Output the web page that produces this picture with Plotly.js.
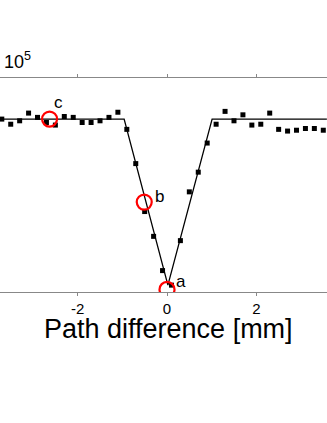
<!DOCTYPE html>
<html>
<head>
<meta charset="utf-8">
<script src="https://cdn.plot.ly/plotly-3.0.1.min.js"></script>
<style>
  html, body { margin: 0; padding: 0; background: #fff; }
  #plotArea { width: 327px; height: 423px; }
</style>
</head>
<body>
<div id="plotArea"></div>
<script>
// measured points (intensity in units of 10^5)
var pathDiff = [-3.7, -3.5, -3.3, -3.1, -2.9, -2.7, -2.5, -2.3, -2.1, -1.9, -1.7, -1.5, -1.3, -1.1, -0.9, -0.7, -0.5, -0.3, -0.1,
                0.1, 0.3, 0.5, 0.7, 0.9, 1.1, 1.3, 1.5, 1.7, 1.9, 2.1, 2.3, 2.5, 2.7, 2.9, 3.1, 3.3, 3.5];
var intensity = [2.02, 1.96, 2.00, 2.09, 2.04, 1.98, 1.95, 2.05, 2.04, 1.98, 1.98, 2.00, 2.04, 2.10, 1.90, 1.50, 0.94, 0.65, 0.25,
                 0.08, 0.60, 1.17, 1.40, 1.74, 1.96, 2.11, 2.00, 2.07, 1.95, 1.96, 2.09, 1.90, 1.88, 1.89, 1.91, 1.91, 1.89];

// fitted curve
var fitX = [-3.74, -0.96, 0.02, 1.01, 3.58];
var fitY = [2.02, 2.02, 0.08, 2.02, 2.02];

// marked positions a, b, c
var markLabels = ["a", "b", "c"];
var markX = [0.0, -0.51, -2.63];
var markY = [0.03, 1.05, 2.02];
var labelX = [0.32, -0.16, -2.42];
var labelY = [0.12, 1.12, 2.21];

var tickVals = [-2, 0, 2];
var tickText = ["-2", "0", "2"];
var xTitle = "Path difference [mm]";

var fit = {
    x: fitX,
    y: fitY,
    mode: "lines",
    type: "scatter",
    line: {color: "#000", width: 1.3},
    hoverinfo: "skip"
};
var points = {
    x: pathDiff,
    y: intensity,
    mode: "markers",
    type: "scatter",
    marker: {symbol: "square", size: 5, color: "#000"}
};
var circles = {
    x: markX,
    y: markY,
    mode: "markers",
    type: "scatter",
    marker: {symbol: "circle-open", size: 15, color: "#ff0000", line: {width: 2.2, color: "#ff0000"}}
};
var data = [fit, points, circles];

var annots = markLabels.map(function(t, i) {
    return {x: labelX[i], y: labelY[i], text: t, showarrow: false,
            font: {family: "Liberation Sans, Arial", size: 17, color: "#000"}};
});
// exponent in the top-left corner
annots.push({
    xref: "paper", yref: "paper", x: 0.005, y: 1.02, xanchor: "left", yanchor: "bottom",
    text: "10<sup>5</sup>", showarrow: false,
    font: {family: "Liberation Sans, Arial", size: 18, color: "#000"}
});
// x axis title, placed by hand so it sits right under the tick labels
annots.push({
    xref: "paper", yref: "paper", x: 0.514, y: -0.1, xanchor: "center", yanchor: "top",
    text: xTitle, showarrow: false, borderpad: 0,
    font: {family: "Liberation Sans, Arial", size: 27, color: "#000"}
});

var layout = {
    width: 327,
    height: 423,
    margin: {l: 0, r: 0, t: 78, b: 131},
    showlegend: false,
    paper_bgcolor: "#fff",
    plot_bgcolor: "#fff",
    font: {family: "Liberation Sans, Arial", color: "#000"},
    xaxis: {
        range: [-3.74, 3.583],
        tickvals: tickVals,
        ticktext: tickText,
        ticks: "outside",
        ticklen: 3,
        tickcolor: "#888",
        showline: true,
        linecolor: "#888",
        linewidth: 1,
        mirror: "ticks",
        showgrid: false,
        zeroline: false,
        tickfont: {size: 15}
    },
    yaxis: {
        range: [0, 2.5],
        showticklabels: false,
        showgrid: false,
        zeroline: false,
        showline: false,
        ticks: ""
    },
    annotations: annots
};

Plotly.newPlot("plotArea", data, layout, {displayModeBar: false, staticPlot: true});
</script>
</body>
</html>
